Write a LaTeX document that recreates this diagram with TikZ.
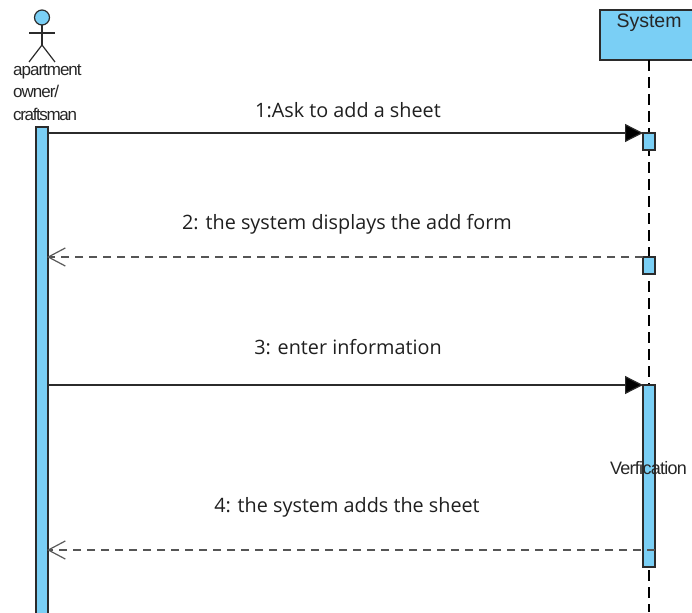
\documentclass[tikz,border=0pt]{standalone}
\usepackage{fontspec}
\setmainfont{Open Sans}
\newfontfamily\lblfont{Liberation Sans}
\usetikzlibrary{arrows.meta}
\definecolor{fillblue}{HTML}{7ACFF5}
\definecolor{linedark}{HTML}{2B2B2B}
\tikzset{
  x=1pt,y=-1pt,
  bar/.style={draw=linedark,line width=1.2pt,fill=fillblue,minimum width=12pt,inner sep=0pt,outer sep=0pt,anchor=north},
  msg/.style={font=\fontsize{19.8}{22}\selectfont,text=black!88,inner sep=0pt,anchor=base},
  small/.style={font=\lblfont\fontsize{17}{20}\selectfont,text=black!85,inner sep=0pt},
  sync/.style={draw=linedark,line width=1.2pt,-{Triangle[length=18pt,width=18pt,fill=black]}},
  reply/.style={draw=linedark!80,line width=1.2pt,dash pattern=on 8pt off 6pt,-{Straight Barb[length=17pt,width=18pt,line width=1.2pt,color=gray!70!black]}},
  life/.style={draw=black,line width=1.2pt,dash pattern=on 11pt off 6pt},
  limb/.style={draw=linedark,line width=1.2pt}
}
\begin{document}
\begin{tikzpicture}
\useasboundingbox (0,0) rectangle (692,612);
% System head
\node[draw=linedark,line width=1.2pt,fill=fillblue,minimum width=106pt,minimum height=50pt,inner sep=0pt,outer sep=0pt,anchor=north west] (sys) at (600,10) {};
\node[font=\lblfont\fontsize{19.5}{22}\selectfont,text=black!85,inner sep=0pt,anchor=base] (systxt) at (649,28) {System};
\coordinate (lifeend) at (649,612);
\draw[life] (649,60) -- (lifeend);
% actor
\node[circle,draw=linedark,line width=1.2pt,fill=fillblue,minimum size=15pt,inner sep=0pt,outer sep=0pt] (head) at (42,17.5) {};
\coordinate (hip) at (42,45);
\coordinate (armL) at (29,33);
\coordinate (armR) at (55,33);
\coordinate (legL) at (29,62);
\coordinate (legR) at (55,62);
\draw[limb] (head.south) -- (hip);
\draw[limb] (armL) -- (armR);
\draw[limb] (legL) -- (hip) -- (legR);
\node[small,anchor=base west] (a1) at (13,76) {\addfontfeature{LetterSpace=-6}apartment};
\node[small,anchor=base west] (a2) at (13,98) {\addfontfeature{LetterSpace=-6}owner/};
\node[small,anchor=base west] (a3) at (13,121) {\addfontfeature{LetterSpace=-8}craftsman};
% activations
\node[bar,minimum height=490pt] (actbar) at (42,127) {};
\node[bar,minimum height=17pt] (s1) at (649,133) {};
\node[bar,minimum height=17pt] (s2) at (649,257) {};
\node[bar,minimum height=182pt] (s3) at (649,385) {};
% messages
\coordinate (m1s) at (48,133);
\coordinate (m1e) at (643,133);
\coordinate (m2s) at (643,257);
\coordinate (m2e) at (47,257);
\coordinate (m3s) at (48,385);
\coordinate (m3e) at (643,385);
\coordinate (m4s) at (655,550);
\coordinate (m4e) at (47,550);
\draw[sync] (m1s) -- (m1e);
\draw[reply] (m2s) -- (m2e);
\draw[sync] (m3s) -- (m3e);
\draw[reply] (m4s) -- (m4e);
\node[msg] (l1) at (348,117.5) {1:Ask to add a sheet};
\node[msg] (l2) at (347,229) {2: the system displays the add form};
\node[msg] (l3) at (348,354) {3: enter information};
\node[msg] (l4) at (347,512) {4: the system adds the sheet};
\node[small,font=\lblfont\fontsize{18}{20}\selectfont,anchor=base] (ver) at (648.5,474) {\addfontfeature{LetterSpace=-4}Verfication};
\end{tikzpicture}
\end{document}
